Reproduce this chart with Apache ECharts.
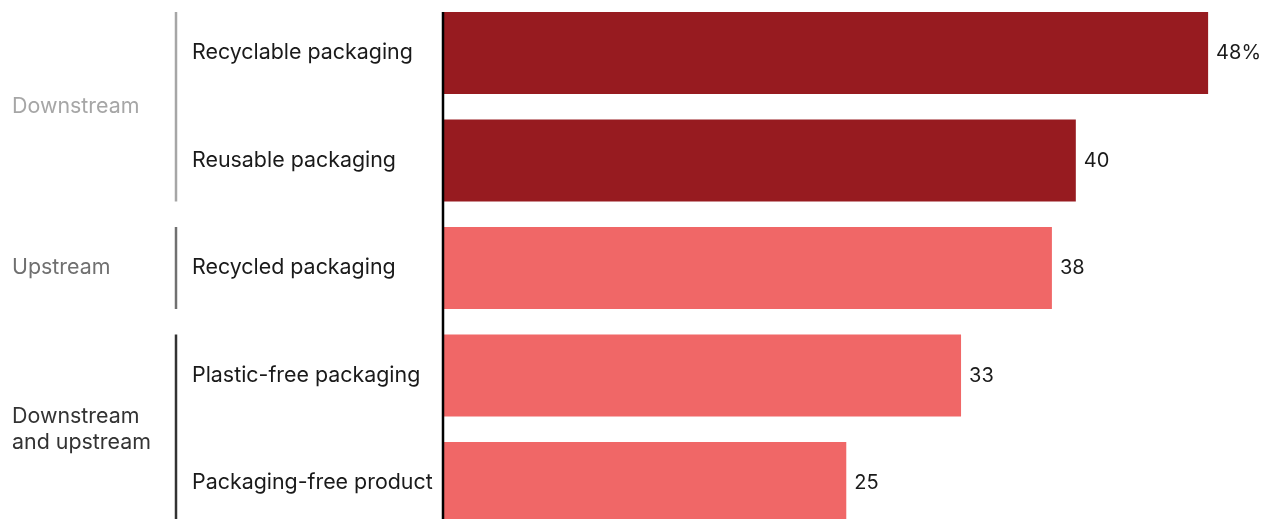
<!DOCTYPE html>
<html>
<head>
<meta charset="utf-8">
<script src="https://cdn.jsdelivr.net/npm/echarts@6/dist/echarts.min.js"></script>
<style>
  html, body { margin: 0; padding: 0; background: #fff; }
  #chart { width: 1270px; height: 519px; }
</style>
</head>
<body>
<div id="chart"></div>
<script>
const categories = ['Recyclable packaging', 'Reusable packaging', 'Recycled packaging', 'Plastic-free packaging', 'Packaging-free product'];
const values = [48, 39.7, 38.2, 32.5, 25.3];
const valueLabels = ['48%', '40', '38', '33', '25'];
const barColors = ['#971b20', '#971b20', '#f06767', '#f06767', '#f06767'];
const groups = ['Downstream', 'Upstream', 'Downstream\nand upstream'];
const groupRanges = [[0, 1], [2, 2], [3, 4]];
const groupColors = ['#a6a6a6', '#707070', '#333333'];

const FONT = 'Inter, "Noto Sans", sans-serif';
const BAR_H = 82;

const chart = echarts.init(document.getElementById('chart'));
chart.setOption({
  animation: false,
  grid: { left: 443, top: -0.75, width: 797, height: 537.5, outerBoundsMode: 'none', containLabel: false },
  xAxis: { type: 'value', min: 0, max: 50, show: false },
  yAxis: {
    type: 'category', data: categories, inverse: true,
    axisLine: { show: false }, axisTick: { show: false },
    axisLabel: { align: 'left', margin: 251, color: '#1a1a1a', fontSize: 21.4, fontFamily: FONT }
  },
  series: [{
    type: 'bar', barWidth: BAR_H,
    data: values.map((v, i) => ({ value: v, itemStyle: { color: barColors[i] } })),
    label: {
      show: true, position: 'right', distance: 8, color: '#1a1a1a', fontSize: 20, fontFamily: FONT,
      formatter: p => valueLabels[p.dataIndex]
    }
  }]
});

// axis line and group brackets, placed from the category scale
const yAt = i => chart.convertToPixel({ yAxisIndex: 0 }, i);
const x0 = chart.convertToPixel({ xAxisIndex: 0 }, 0);
const graphic = [{
  type: 'line', silent: true,
  shape: { x1: x0, y1: yAt(0) - BAR_H / 2, x2: x0, y2: yAt(categories.length - 1) + BAR_H / 2 },
  style: { stroke: '#000', lineWidth: 2.5 }, z: 10
}];
groups.forEach((g, k) => {
  const [a, b] = groupRanges[k];
  const top = yAt(a) - BAR_H / 2, bot = yAt(b) + BAR_H / 2;
  graphic.push({
    type: 'line', silent: true,
    shape: { x1: 176, y1: top, x2: 176, y2: bot },
    style: { stroke: groupColors[k], lineWidth: 2.5 }
  });
  graphic.push({
    type: 'text', silent: true, x: 12, y: (top + bot) / 2,
    style: { text: g, fill: groupColors[k], font: '21.4px ' + FONT, verticalAlign: 'middle', lineHeight: 26 }
  });
});
chart.setOption({ graphic });
</script>
</body>
</html>
